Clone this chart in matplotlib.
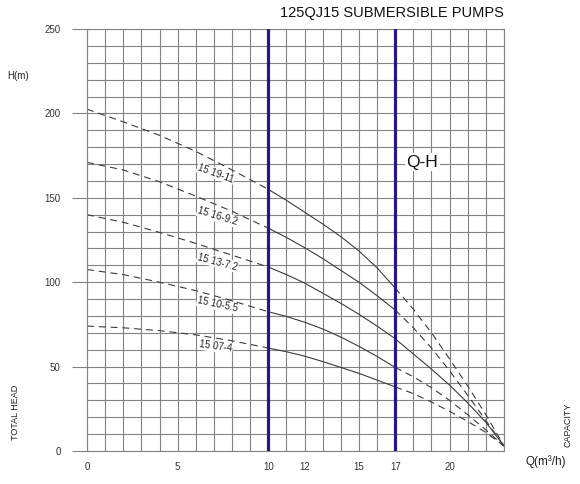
import matplotlib
matplotlib.use("Agg")
import matplotlib.pyplot as plt

plt.rcParams['font.family'] = ['Liberation Sans', 'DejaVu Sans']
plt.rcParams['lines.scale_dashes'] = False

# ---- data ----
models = ["15 19-11", "15 16-9.2", "15 13-7.2", "15 10-5.5", "15 07-4"]
q_left = [0, 2, 4, 6, 8, 10]
q_mid = [10, 11, 12, 13, 14, 15, 16, 17]
q_right = [17, 18, 19, 20, 21, 22, 23]

h_left = [
    [202.5, 195, 187, 177.5, 166.5, 155],
    [171, 166.5, 159.5, 151, 142, 132],
    [140, 135.5, 129.5, 123, 116, 109],
    [107.5, 104.5, 100, 95, 89, 82.5],
    [74, 73, 71.3, 68.8, 65.3, 61],
]
h_mid = [
    [155, 148.5, 141.5, 134.5, 127, 118.5, 108.5, 96.5],
    [132, 126.5, 120.5, 114, 107, 100, 92, 83.5],
    [109, 104.5, 99.5, 93.5, 87.5, 81, 74, 66.5],
    [82.5, 79.7, 76.3, 72.3, 67.5, 62, 56, 49.5],
    [61, 58.8, 56.2, 53, 49.5, 46, 42, 38],
]
h_right = [
    [96.5, 84, 70, 54.5, 38.5, 21.5, 3],
    [83.5, 73, 61, 47.5, 33, 18, 3],
    [66.5, 57.5, 48.5, 39, 28.5, 17, 3],
    [49.5, 44, 37.5, 30, 21.5, 12.5, 3],
    [38, 34, 29, 23.5, 17.5, 11, 3],
]
right_solid = [False, False, True, False, False]

label_q = [7.1, 7.2, 7.2, 7.2, 7.1]
label_h = [164.5, 139, 112, 86.7, 62]
label_rot = [-20, -17, -15, -12, -8]

x_ticks = [0, 5, 10, 12, 15, 17, 20]
y_ticks = [0, 50, 100, 150, 200, 250]
limit_q = [10, 17]

title = "125QJ15 SUBMERSIBLE PUMPS"

# ---- figure ----
fig = plt.figure(figsize=(5.8, 4.84), dpi=100)
ax = fig.add_axes([87/580, 1-451/484, (504-87)/580, (451-29)/484])
ax.set_xlim(0, 23)
ax.set_ylim(0, 250)

grid_c = '#838383'
ax.set_xticks(x_ticks)
ax.set_xticks(range(0, 24), minor=True)
ax.set_yticks(y_ticks)
ax.set_yticks(range(0, 251, 10), minor=True)
ax.grid(True, which='both', color=grid_c, lw=0.8, zorder=1)
ax.set_axisbelow(True)
ax.tick_params(axis='x', which='both', length=0, pad=8, labelsize=7, labelcolor='#333333')
ax.tick_params(axis='y', which='major', length=11, width=0.8, color=grid_c, pad=8,
               labelsize=7, labelcolor='#333333')
ax.tick_params(axis='y', which='minor', length=0)
for s in ax.spines.values():
    s.set_color(grid_c)
    s.set_linewidth(0.8)

curve_c = '#3c3c3c'
dash = (0, (5, 3.5))
for i in range(len(models)):
    ax.plot(q_left, h_left[i], color=curve_c, lw=0.8, linestyle=dash, zorder=2)
    ax.plot(q_mid, h_mid[i], color=curve_c, lw=0.8, zorder=2)
    ax.plot(q_right, h_right[i], color=curve_c, lw=0.8,
            linestyle='-' if right_solid[i] else dash, zorder=2)
    ax.text(label_q[i], label_h[i], models[i], rotation=label_rot[i], fontsize=7,
            color='#222222', ha='center', va='center', zorder=3,
            rotation_mode='anchor',
            bbox=dict(facecolor='white', edgecolor='none', pad=0.5))

for q in limit_q:
    ax.axvline(q, color='#2c1883', lw=2.3, zorder=4)

ax.text(18.5, 171, "Q-H", fontsize=12.5, color='#111111', ha='center', va='center', zorder=3,
        bbox=dict(facecolor='white', edgecolor='none', pad=1))

fig.text(392/580, 1-13/484, title, fontsize=10.5, color='#111111', ha='center', va='center')
fig.text(18/580, 1-76/484, "H(m)", fontsize=7, color='#222222', ha='center', va='center')
fig.text(15/580, 1-412/484, "TOTAL HEAD", fontsize=6.5, color='#222222', ha='center',
         va='center', rotation=90)
fig.text(568/580, 1-425/484, "CAPACITY", fontsize=6.5, color='#222222', ha='center',
         va='center', rotation=90)
fig.text(546/580, 1-462/484, "Q(m\u00b3/h)", fontsize=8.5, color='#222222', ha='center',
         va='center')

fig.savefig("out.png", dpi=100, facecolor='white')
